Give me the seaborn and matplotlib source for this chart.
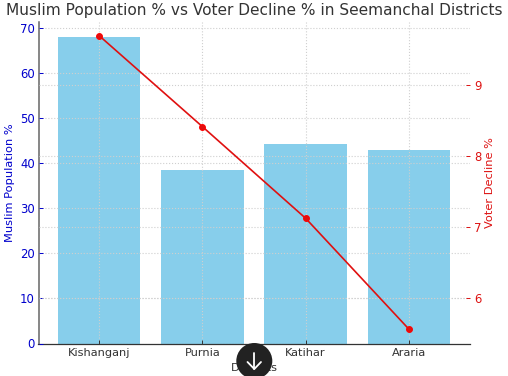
import matplotlib
matplotlib.use('Agg')
import matplotlib.pyplot as plt
from matplotlib.patches import Circle
import pandas as pd
import seaborn as sns

districts = ['Kishanganj', 'Purnia', 'Katihar', 'Araria']
muslim_pct = [68.0, 38.5, 44.4, 42.9]
voter_decline = [9.69, 8.41, 7.12, 5.56]

df = pd.DataFrame({'District': districts, 'Muslim': muslim_pct, 'Decline': voter_decline})

W, H = 508, 376
TEXT = '#333333'
GRID = '#cfcfcf'

sns.set_theme(style='white')
plt.rcParams['font.family'] = ['DejaVu Sans']

fig = plt.figure(figsize=(W / 100, H / 100), dpi=100)
ax1 = fig.add_axes([38.5 / W, 1 - 343.5 / H, 431.5 / W, 321.5 / H])

sns.barplot(data=df, x='District', y='Muslim', color='skyblue', saturation=1,
            width=0.8, linewidth=0, ax=ax1, zorder=2)
ax1.set_xlim(-0.585, 3.59)
ax1.set_ylim(0, 71.4)
ax1.set_yticks(range(0, 71, 10))
ax1.set_xlabel('Districts', fontsize=8.2, color=TEXT)
ax1.xaxis.set_label_coords(0.5, -0.062)
ax1.set_ylabel('Muslim Population %', fontsize=8.2, color='#0000cc')
ax1.yaxis.set_label_coords(-0.054, 0.5)
ax1.tick_params(axis='y', colors='#0000cc', labelsize=8.4, direction='in', length=3, width=0.7, pad=2.5, left=True)
ax1.tick_params(axis='x', colors=TEXT, labelsize=8.2, direction='in', length=3, width=0.7, pad=3, bottom=True)
ax1.grid(True, linestyle=':', linewidth=0.8, color=GRID, zorder=3)
ax1.set_axisbelow(False)
for s in ['top', 'right']:
    ax1.spines[s].set_visible(False)
ax1.spines['left'].set_color('#666666')
ax1.spines['left'].set_linewidth(1.1)
ax1.spines['bottom'].set_color('#333333')
ax1.spines['bottom'].set_linewidth(0.9)

ax2 = ax1.twinx()
sns.lineplot(data=df, x='District', y='Decline', color='#e01010', marker='o', markersize=4.2,
             markeredgecolor='red', linewidth=1.2, ax=ax2, zorder=5)
ax2.set_ylim(5.36, 9.88)
ax2.set_yticks([6, 7, 8, 9])
ax2.set_ylabel('Voter Decline %', fontsize=8.2, color='#dd1111')
ax2.yaxis.set_label_coords(1.035, 0.5)
ax2.tick_params(axis='y', colors='#dd1111', labelsize=8.4, direction='in', length=3, width=0.7, pad=3, right=True)
ax2.grid(True, axis='y', linestyle=':', linewidth=0.8, color=GRID)
ax2.set_axisbelow(False)
for s in ['top', 'right', 'left', 'bottom']:
    ax2.spines[s].set_visible(False)
ax2.patch.set_visible(False)

fig.text(254 / W, 1 - 10 / H, 'Muslim Population % vs Voter Decline % in Seemanchal Districts',
         fontsize=11.1, color=TEXT, ha='center', va='center')

# round download button sitting over the x label
fig.add_artist(Circle((2.543, (H - 361) / 100), 0.18, transform=fig.dpi_scale_trans,
                      facecolor='#222222', edgecolor='none', zorder=10))
fig.add_artist(plt.Line2D([254.3 / W, 254.3 / W], [1 - 353 / H, 1 - 369 / H],
                          color='white', linewidth=1.3, zorder=11))
fig.add_artist(plt.Line2D([247.5 / W, 254.3 / W, 261 / W], [1 - 362 / H, 1 - 369 / H, 1 - 362 / H],
                          color='white', linewidth=1.3, zorder=11))

fig.savefig('out.png', dpi=100)
